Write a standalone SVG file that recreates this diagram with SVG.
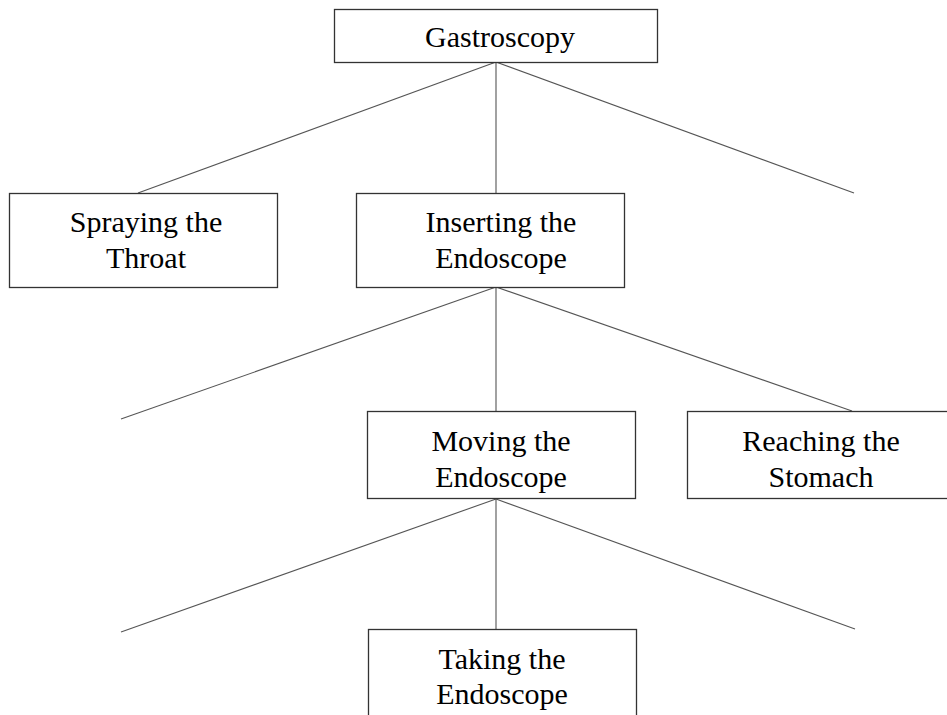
<svg xmlns="http://www.w3.org/2000/svg" width="947" height="715" viewBox="0 0 947 715">
<style>
.box{fill:#fff;stroke:#333;stroke-width:1.3}
.lbl{font-family:"Liberation Serif","Times New Roman",serif;font-size:30px;fill:#000;text-anchor:middle}
.conn line{stroke:#555;stroke-width:1.1}
</style>
<rect width="947" height="715" fill="#fff"/>
<g class="conn" id="connectors">
<line x1="496" y1="62" x2="138" y2="193"/>
<line x1="496" y1="62" x2="496" y2="193"/>
<line x1="496" y1="62" x2="854" y2="193"/>
<line x1="496" y1="287" x2="121" y2="419"/>
<line x1="496" y1="287" x2="496" y2="411"/>
<line x1="496" y1="287" x2="852" y2="411"/>
<line x1="496" y1="499" x2="121" y2="632"/>
<line x1="496" y1="499" x2="496" y2="629"/>
<line x1="496" y1="499" x2="855" y2="629"/>
</g>
<g id="gastroscopy">
<rect class="box" x="334.5" y="9.5" width="323" height="53"/>
<text class="lbl" x="500" y="47">Gastroscopy</text>
</g>
<g id="spraying">
<rect class="box" x="9.5" y="193.5" width="268" height="94"/>
<text class="lbl" x="146" y="232">Spraying the</text>
<text class="lbl" x="146" y="268">Throat</text>
</g>
<g id="inserting">
<rect class="box" x="356.5" y="193.5" width="268" height="94"/>
<text class="lbl" x="501" y="232">Inserting the</text>
<text class="lbl" x="501" y="268">Endoscope</text>
</g>
<g id="moving">
<rect class="box" x="367.5" y="411.5" width="268" height="87"/>
<text class="lbl" x="501" y="451">Moving the</text>
<text class="lbl" x="501" y="487">Endoscope</text>
</g>
<g id="reaching">
<rect class="box" x="687.5" y="411.5" width="268" height="87"/>
<text class="lbl" x="821" y="451">Reaching the</text>
<text class="lbl" x="821" y="487">Stomach</text>
</g>
<g id="taking">
<rect class="box" x="368.5" y="629.5" width="268" height="100"/>
<text class="lbl" x="502" y="669">Taking the</text>
<text class="lbl" x="502" y="704">Endoscope</text>
</g>
</svg>
